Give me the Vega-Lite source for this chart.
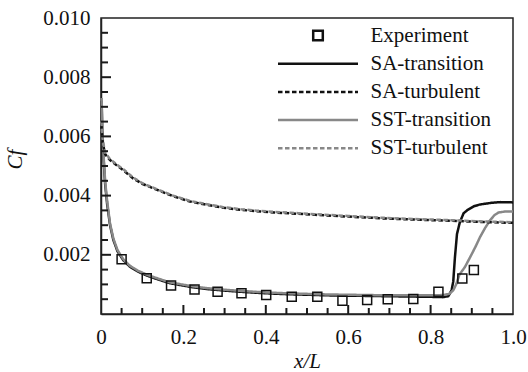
{
  "$schema": "https://vega.github.io/schema/vega-lite/v6.json",
  "width": 412,
  "height": 296,
  "autosize": {"type": "none"},
  "padding": {"left": 101, "top": 18, "right": 15, "bottom": 58},
  "background": "white",
  "config": {
    "font": "Liberation Serif, DejaVu Serif, serif",
    "view": {"stroke": "#222", "strokeWidth": 1.5},
    "axis": {
      "domainColor": "#222", "domainWidth": 1.5, "ticks": false,
      "labelFont": "Liberation Serif, DejaVu Serif, serif", "labelFontSize": 21, "labelColor": "#111",
      "titleFont": "Liberation Serif, DejaVu Serif, serif", "titleFontSize": 21, "titleFontStyle": "italic",
      "titleFontWeight": "normal", "titleColor": "#111", "grid": false,
      "labelOverlap": false, "labelFlush": false
    }
  },
  "datasets": {
    "curves": [
      {"series": "SA-transition", "x": 0.0015, "cf": 0.0072},
      {"series": "SA-transition", "x": 0.003, "cf": 0.0062},
      {"series": "SA-transition", "x": 0.006, "cf": 0.0053},
      {"series": "SA-transition", "x": 0.01, "cf": 0.0044},
      {"series": "SA-transition", "x": 0.015, "cf": 0.0037},
      {"series": "SA-transition", "x": 0.022, "cf": 0.0030},
      {"series": "SA-transition", "x": 0.03, "cf": 0.0025},
      {"series": "SA-transition", "x": 0.04, "cf": 0.00212},
      {"series": "SA-transition", "x": 0.054, "cf": 0.00182},
      {"series": "SA-transition", "x": 0.07, "cf": 0.0016},
      {"series": "SA-transition", "x": 0.09, "cf": 0.00143},
      {"series": "SA-transition", "x": 0.111, "cf": 0.0013},
      {"series": "SA-transition", "x": 0.14, "cf": 0.00116},
      {"series": "SA-transition", "x": 0.167, "cf": 0.00104},
      {"series": "SA-transition", "x": 0.2, "cf": 0.00096},
      {"series": "SA-transition", "x": 0.224, "cf": 0.0009},
      {"series": "SA-transition", "x": 0.26, "cf": 0.00084},
      {"series": "SA-transition", "x": 0.3, "cf": 0.00079},
      {"series": "SA-transition", "x": 0.35, "cf": 0.00074},
      {"series": "SA-transition", "x": 0.4, "cf": 0.0007},
      {"series": "SA-transition", "x": 0.45, "cf": 0.00067},
      {"series": "SA-transition", "x": 0.5, "cf": 0.00065},
      {"series": "SA-transition", "x": 0.55, "cf": 0.00063},
      {"series": "SA-transition", "x": 0.6, "cf": 0.00062},
      {"series": "SA-transition", "x": 0.65, "cf": 0.00061},
      {"series": "SA-transition", "x": 0.7, "cf": 0.0006},
      {"series": "SA-transition", "x": 0.75, "cf": 0.00059},
      {"series": "SA-transition", "x": 0.8, "cf": 0.00058},
      {"series": "SA-transition", "x": 0.83, "cf": 0.00057},
      {"series": "SA-transition", "x": 0.843, "cf": 0.0006},
      {"series": "SA-transition", "x": 0.851, "cf": 0.0008},
      {"series": "SA-transition", "x": 0.855, "cf": 0.0011},
      {"series": "SA-transition", "x": 0.859, "cf": 0.0019},
      {"series": "SA-transition", "x": 0.864, "cf": 0.0027},
      {"series": "SA-transition", "x": 0.871, "cf": 0.0031},
      {"series": "SA-transition", "x": 0.88, "cf": 0.0034},
      {"series": "SA-transition", "x": 0.89, "cf": 0.00352},
      {"series": "SA-transition", "x": 0.905, "cf": 0.00364},
      {"series": "SA-transition", "x": 0.92, "cf": 0.0037},
      {"series": "SA-transition", "x": 0.95, "cf": 0.00376},
      {"series": "SA-transition", "x": 0.97, "cf": 0.00378},
      {"series": "SA-transition", "x": 1.0, "cf": 0.00377},

      {"series": "SST-transition", "x": 0.0015, "cf": 0.0073},
      {"series": "SST-transition", "x": 0.003, "cf": 0.0063},
      {"series": "SST-transition", "x": 0.006, "cf": 0.0054},
      {"series": "SST-transition", "x": 0.01, "cf": 0.0045},
      {"series": "SST-transition", "x": 0.015, "cf": 0.0038},
      {"series": "SST-transition", "x": 0.022, "cf": 0.00305},
      {"series": "SST-transition", "x": 0.03, "cf": 0.00255},
      {"series": "SST-transition", "x": 0.04, "cf": 0.00216},
      {"series": "SST-transition", "x": 0.054, "cf": 0.00185},
      {"series": "SST-transition", "x": 0.07, "cf": 0.00163},
      {"series": "SST-transition", "x": 0.09, "cf": 0.00146},
      {"series": "SST-transition", "x": 0.111, "cf": 0.00133},
      {"series": "SST-transition", "x": 0.14, "cf": 0.00119},
      {"series": "SST-transition", "x": 0.167, "cf": 0.00107},
      {"series": "SST-transition", "x": 0.2, "cf": 0.00099},
      {"series": "SST-transition", "x": 0.224, "cf": 0.00093},
      {"series": "SST-transition", "x": 0.26, "cf": 0.00087},
      {"series": "SST-transition", "x": 0.3, "cf": 0.00082},
      {"series": "SST-transition", "x": 0.35, "cf": 0.00077},
      {"series": "SST-transition", "x": 0.4, "cf": 0.00073},
      {"series": "SST-transition", "x": 0.45, "cf": 0.0007},
      {"series": "SST-transition", "x": 0.5, "cf": 0.00068},
      {"series": "SST-transition", "x": 0.55, "cf": 0.00066},
      {"series": "SST-transition", "x": 0.6, "cf": 0.00065},
      {"series": "SST-transition", "x": 0.65, "cf": 0.00064},
      {"series": "SST-transition", "x": 0.7, "cf": 0.00063},
      {"series": "SST-transition", "x": 0.75, "cf": 0.00063},
      {"series": "SST-transition", "x": 0.8, "cf": 0.00063},
      {"series": "SST-transition", "x": 0.83, "cf": 0.00064},
      {"series": "SST-transition", "x": 0.845, "cf": 0.00068},
      {"series": "SST-transition", "x": 0.855, "cf": 0.0008},
      {"series": "SST-transition", "x": 0.862, "cf": 0.001},
      {"series": "SST-transition", "x": 0.87, "cf": 0.00133},
      {"series": "SST-transition", "x": 0.883, "cf": 0.00158},
      {"series": "SST-transition", "x": 0.896, "cf": 0.00192},
      {"series": "SST-transition", "x": 0.91, "cf": 0.0023},
      {"series": "SST-transition", "x": 0.92, "cf": 0.0026},
      {"series": "SST-transition", "x": 0.932, "cf": 0.0029},
      {"series": "SST-transition", "x": 0.944, "cf": 0.00316},
      {"series": "SST-transition", "x": 0.955, "cf": 0.00334},
      {"series": "SST-transition", "x": 0.965, "cf": 0.00343},
      {"series": "SST-transition", "x": 0.98, "cf": 0.00346},
      {"series": "SST-transition", "x": 1.0, "cf": 0.00346},

      {"series": "SA-turbulent", "x": 0.001, "cf": 0.0064},
      {"series": "SA-turbulent", "x": 0.004, "cf": 0.0058},
      {"series": "SA-turbulent", "x": 0.01, "cf": 0.0054},
      {"series": "SA-turbulent", "x": 0.022, "cf": 0.0052},
      {"series": "SA-turbulent", "x": 0.04, "cf": 0.0050},
      {"series": "SA-turbulent", "x": 0.055, "cf": 0.00485},
      {"series": "SA-turbulent", "x": 0.078, "cf": 0.00458},
      {"series": "SA-turbulent", "x": 0.1, "cf": 0.0044},
      {"series": "SA-turbulent", "x": 0.135, "cf": 0.0042},
      {"series": "SA-turbulent", "x": 0.175, "cf": 0.00398},
      {"series": "SA-turbulent", "x": 0.216, "cf": 0.0038},
      {"series": "SA-turbulent", "x": 0.26, "cf": 0.00368},
      {"series": "SA-turbulent", "x": 0.297, "cf": 0.00359},
      {"series": "SA-turbulent", "x": 0.34, "cf": 0.00352},
      {"series": "SA-turbulent", "x": 0.378, "cf": 0.00347},
      {"series": "SA-turbulent", "x": 0.42, "cf": 0.00343},
      {"series": "SA-turbulent", "x": 0.46, "cf": 0.0034},
      {"series": "SA-turbulent", "x": 0.52, "cf": 0.00335},
      {"series": "SA-turbulent", "x": 0.6, "cf": 0.00329},
      {"series": "SA-turbulent", "x": 0.685, "cf": 0.00323},
      {"series": "SA-turbulent", "x": 0.76, "cf": 0.00319},
      {"series": "SA-turbulent", "x": 0.85, "cf": 0.00315},
      {"series": "SA-turbulent", "x": 0.92, "cf": 0.00311},
      {"series": "SA-turbulent", "x": 1.0, "cf": 0.00308},

      {"series": "SST-turbulent", "x": 0.001, "cf": 0.0065},
      {"series": "SST-turbulent", "x": 0.004, "cf": 0.0059},
      {"series": "SST-turbulent", "x": 0.01, "cf": 0.00545},
      {"series": "SST-turbulent", "x": 0.022, "cf": 0.00523},
      {"series": "SST-turbulent", "x": 0.04, "cf": 0.00503},
      {"series": "SST-turbulent", "x": 0.055, "cf": 0.00488},
      {"series": "SST-turbulent", "x": 0.078, "cf": 0.00461},
      {"series": "SST-turbulent", "x": 0.1, "cf": 0.00442},
      {"series": "SST-turbulent", "x": 0.135, "cf": 0.00422},
      {"series": "SST-turbulent", "x": 0.175, "cf": 0.004},
      {"series": "SST-turbulent", "x": 0.216, "cf": 0.00382},
      {"series": "SST-turbulent", "x": 0.26, "cf": 0.0037},
      {"series": "SST-turbulent", "x": 0.297, "cf": 0.00361},
      {"series": "SST-turbulent", "x": 0.34, "cf": 0.00354},
      {"series": "SST-turbulent", "x": 0.378, "cf": 0.00349},
      {"series": "SST-turbulent", "x": 0.42, "cf": 0.00345},
      {"series": "SST-turbulent", "x": 0.46, "cf": 0.00342},
      {"series": "SST-turbulent", "x": 0.52, "cf": 0.00337},
      {"series": "SST-turbulent", "x": 0.6, "cf": 0.00331},
      {"series": "SST-turbulent", "x": 0.685, "cf": 0.00325},
      {"series": "SST-turbulent", "x": 0.76, "cf": 0.00321},
      {"series": "SST-turbulent", "x": 0.85, "cf": 0.00317},
      {"series": "SST-turbulent", "x": 0.92, "cf": 0.00313},
      {"series": "SST-turbulent", "x": 1.0, "cf": 0.0031}
    ],
    "exp": [
      {"series": "Experiment", "x": 0.05, "cf": 0.00185},
      {"series": "Experiment", "x": 0.111, "cf": 0.00121},
      {"series": "Experiment", "x": 0.17, "cf": 0.00096},
      {"series": "Experiment", "x": 0.227, "cf": 0.00083},
      {"series": "Experiment", "x": 0.283, "cf": 0.00075},
      {"series": "Experiment", "x": 0.341, "cf": 0.0007},
      {"series": "Experiment", "x": 0.401, "cf": 0.00064},
      {"series": "Experiment", "x": 0.463, "cf": 0.000585},
      {"series": "Experiment", "x": 0.525, "cf": 0.000585},
      {"series": "Experiment", "x": 0.586, "cf": 0.00045},
      {"series": "Experiment", "x": 0.646, "cf": 0.00047},
      {"series": "Experiment", "x": 0.696, "cf": 0.0005},
      {"series": "Experiment", "x": 0.758, "cf": 0.00051},
      {"series": "Experiment", "x": 0.819, "cf": 0.00075},
      {"series": "Experiment", "x": 0.877, "cf": 0.0012},
      {"series": "Experiment", "x": 0.905, "cf": 0.00149}
    ],
    "xmajor": [{"v": 0.2, "base": 0}, {"v": 0.4, "base": 0}, {"v": 0.6, "base": 0}, {"v": 0.8, "base": 0}],
    "xminor": [{"v": 0.05, "base": 0}, {"v": 0.1, "base": 0}, {"v": 0.15, "base": 0}, {"v": 0.25, "base": 0}, {"v": 0.3, "base": 0}, {"v": 0.35, "base": 0}, {"v": 0.45, "base": 0}, {"v": 0.5, "base": 0}, {"v": 0.55, "base": 0}, {"v": 0.65, "base": 0}, {"v": 0.7, "base": 0}, {"v": 0.75, "base": 0}, {"v": 0.85, "base": 0}, {"v": 0.9, "base": 0}, {"v": 0.95, "base": 0}],
    "ymajor": [{"v": 0.002, "base": 0}, {"v": 0.004, "base": 0}, {"v": 0.006, "base": 0}, {"v": 0.008, "base": 0}],
    "yminor": [{"v": 0.0005, "base": 0}, {"v": 0.001, "base": 0}, {"v": 0.0015, "base": 0}, {"v": 0.0025, "base": 0}, {"v": 0.003, "base": 0}, {"v": 0.0035, "base": 0}, {"v": 0.0045, "base": 0}, {"v": 0.005, "base": 0}, {"v": 0.0055, "base": 0}, {"v": 0.0065, "base": 0}, {"v": 0.007, "base": 0}, {"v": 0.0075, "base": 0}, {"v": 0.0085, "base": 0}, {"v": 0.009, "base": 0}, {"v": 0.0095, "base": 0}]
  },
  "layer": [
    {
      "data": {"name": "curves"},
      "mark": {"type": "line", "strokeWidth": 2.5},
      "encoding": {
        "x": {
          "field": "x", "type": "quantitative", "title": "x/L",
          "scale": {"domain": [0, 1], "nice": false, "zero": false},
          "axis": {
            "title": "x/L",
            "values": [0, 0.2, 0.4, 0.6, 0.8, 1.0],
            "labelExpr": "datum.value == 0 ? '0' : format(datum.value, '.1f')",
            "labelPadding": 12,
            "titlePadding": 3
          }
        },
        "y": {
          "field": "cf", "type": "quantitative", "title": "Cf",
          "scale": {"domain": [0, 0.01], "nice": false},
          "axis": {
            "title": "Cf",
            "values": [0.002, 0.004, 0.006, 0.008, 0.01],
            "format": ".3f",
            "labelPadding": 11,
            "titlePadding": 17,
            "titleY": 141
          }
        },
        "color": {
          "field": "series", "type": "nominal",
          "scale": {
            "domain": ["Experiment", "SA-transition", "SA-turbulent", "SST-transition", "SST-turbulent"],
            "range": ["#111111", "#111111", "#111111", "#888888", "#888888"]
          },
          "legend": {
            "title": null,
            "orient": "none",
            "legendX": 175.5,
            "legendY": 7,
            "padding": 0,
            "labelFont": "Liberation Serif, DejaVu Serif, serif",
            "labelFontSize": 21,
            "labelColor": "#111",
            "symbolSize": 6400,
            "symbolStrokeWidth": 2.5,
            "labelOffset": 11,
            "clipHeight": 21,
            "rowPadding": 6.2,
            "encode": {
              "symbols": {
                "update": {
                  "shape": {"signal": "datum.value === 'Experiment' ? 'M-0.12,-0.12H0.12V0.12H-0.12Z' : 'stroke'"},
                  "fill": {"value": "transparent"}
                }
              }
            }
          }
        },
        "strokeDash": {
          "field": "series", "type": "nominal",
          "scale": {
            "domain": ["Experiment", "SA-transition", "SA-turbulent", "SST-transition", "SST-turbulent"],
            "range": [[1, 0], [1, 0], [4.5, 2.5], [1, 0], [4.5, 2.5]]
          },
          "legend": {"title": null, "orient": "none", "legendX": 175.5, "legendY": 7}
        }
      }
    },
    {
      "data": {"name": "exp"},
      "mark": {"type": "point", "shape": "square", "filled": false, "size": 81, "strokeWidth": 1.5, "opacity": 1},
      "encoding": {
        "x": {"field": "x", "type": "quantitative", "title": "x/L"},
        "y": {"field": "cf", "type": "quantitative", "title": "Cf"},
        "color": {"field": "series", "type": "nominal"}
      }
    },
    {
      "data": {"name": "xmajor"},
      "mark": {"type": "tick", "orient": "vertical", "size": 9, "thickness": 2, "yOffset": -4.5, "color": "#1a1a1a", "opacity": 1},
      "encoding": {
        "x": {"field": "v", "type": "quantitative", "title": "x/L"},
        "y": {"field": "base", "type": "quantitative", "title": "Cf"}
      }
    },
    {
      "data": {"name": "xminor"},
      "mark": {"type": "tick", "orient": "vertical", "size": 6, "thickness": 2, "yOffset": -3, "color": "#1a1a1a", "opacity": 1},
      "encoding": {
        "x": {"field": "v", "type": "quantitative", "title": "x/L"},
        "y": {"field": "base", "type": "quantitative", "title": "Cf"}
      }
    },
    {
      "data": {"name": "ymajor"},
      "mark": {"type": "tick", "orient": "horizontal", "size": 10, "thickness": 2, "xOffset": 5, "color": "#1a1a1a", "opacity": 1},
      "encoding": {
        "y": {"field": "v", "type": "quantitative", "title": "Cf"},
        "x": {"field": "base", "type": "quantitative", "title": "x/L"}
      }
    },
    {
      "data": {"name": "yminor"},
      "mark": {"type": "tick", "orient": "horizontal", "size": 7, "thickness": 2, "xOffset": 3.5, "color": "#1a1a1a", "opacity": 1},
      "encoding": {
        "y": {"field": "v", "type": "quantitative", "title": "Cf"},
        "x": {"field": "base", "type": "quantitative", "title": "x/L"}
      }
    }
  ]
}
